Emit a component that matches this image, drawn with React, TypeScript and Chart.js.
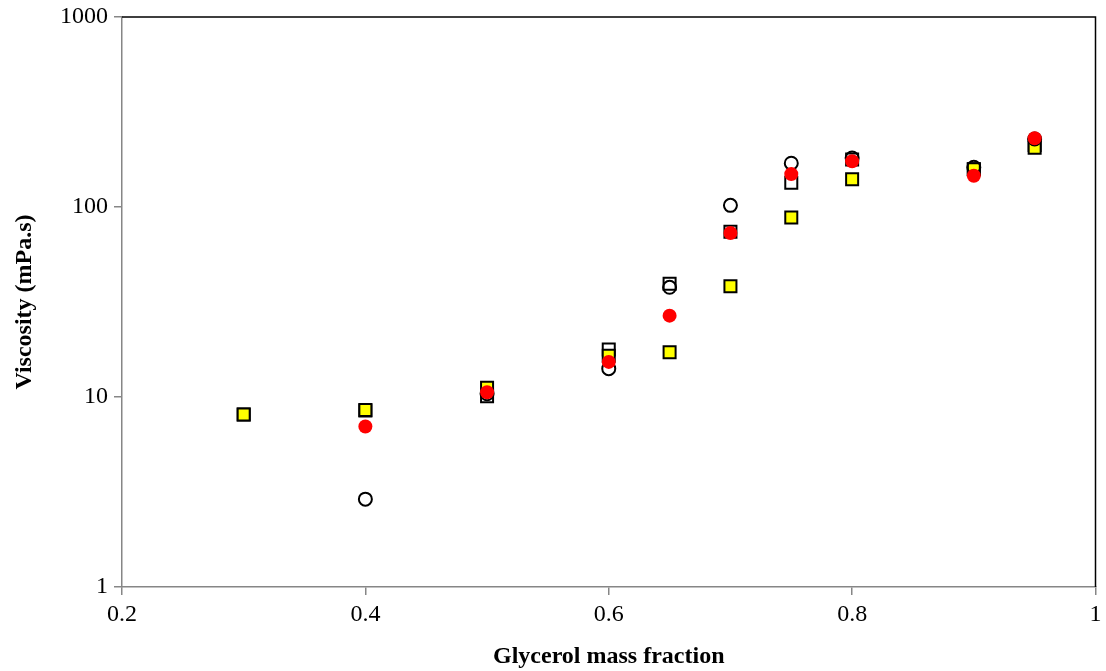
import React, { useEffect, useRef } from "react";
import { Chart, registerables } from "chart.js";

Chart.register(...registerables);

const xTicks = [0.2, 0.4, 0.6, 0.8, 1];
const yTicks = [1, 10, 100, 1000];

const sqX = [0.3, 0.4, 0.5, 0.6, 0.65, 0.7, 0.75, 0.8, 0.9, 0.95];
const openSquareY = [8.1, 8.5, 10.1, 17.8, 39.5, 74, 134, 178, 158, 212];
const yellowY = [8.1, 8.55, 11.2, 16.5, 17.2, 38.3, 88, 140, 158, 205];

const circX = [0.4, 0.5, 0.6, 0.65, 0.7, 0.75, 0.8, 0.9, 0.95];
const openCircleY = [2.9, 10.4, 14.1, 37.8, 102, 170, 181, 162, 228];
const redY = [7.0, 10.6, 15.3, 26.8, 73, 149, 174, 146, 230];

const pts = (xs: number[], ys: number[]) => xs.map((x, i) => ({ x, y: ys[i] }));

const FONT = "'Liberation Serif', 'Times New Roman', serif";

const framePlugin = {
  id: "frame",
  afterDraw(chart: any) {
    const { ctx, chartArea } = chart;
    ctx.save();
    ctx.strokeStyle = "#000";
    ctx.lineWidth = 1.5;
    ctx.beginPath();
    ctx.moveTo(chartArea.left, chartArea.top);
    ctx.lineTo(chartArea.right, chartArea.top);
    ctx.lineTo(chartArea.right, chartArea.bottom);
    ctx.stroke();
    ctx.restore();
  },
};

export default function App() {
  const ref = useRef<HTMLCanvasElement>(null);
  useEffect(() => {
    if (!ref.current) return;
    const chart = new Chart(ref.current, {
      type: "scatter",
      data: {
        datasets: [
          {
            label: "open squares",
            data: pts(sqX, openSquareY),
            order: 4,
            pointStyle: "rect",
            pointRadius: 8.5,
            pointBackgroundColor: "#ffffff",
            pointBorderColor: "#000000",
            pointBorderWidth: 2,
          },
          {
            label: "yellow squares",
            data: pts(sqX, yellowY),
            order: 3,
            pointStyle: "rect",
            pointRadius: 8.5,
            pointBackgroundColor: "#ffff00",
            pointBorderColor: "#000000",
            pointBorderWidth: 2,
          },
          {
            label: "open circles",
            data: pts(circX, openCircleY),
            order: 2,
            pointStyle: "circle",
            pointRadius: 6.5,
            pointBackgroundColor: "rgba(255,255,255,0)",
            pointBorderColor: "#000000",
            pointBorderWidth: 2,
          },
          {
            label: "red circles",
            data: pts(circX, redY),
            order: 1,
            pointStyle: "circle",
            pointRadius: 7,
            pointBackgroundColor: "#ff0000",
            pointBorderColor: "#ff0000",
            pointBorderWidth: 0,
          },
        ],
      },
      options: {
        animation: false,
        responsive: false,
        maintainAspectRatio: false,
        layout: { padding: { top: 17, right: 7, left: 0, bottom: 0 } },
        plugins: { legend: { display: false }, tooltip: { enabled: false } },
        scales: {
          x: {
            type: "linear",
            min: 0.2,
            max: 1,
            afterBuildTicks: (s: any) => {
              s.ticks = xTicks.map((v) => ({ value: v }));
            },
            afterFit: (s: any) => {
              s.height = 84;
              s.paddingLeft = 0;
              s.paddingRight = 0;
            },
            ticks: {
              color: "#000",
              font: { family: FONT, size: 24 },
              padding: 5,
              maxRotation: 0,
              callback: (v: any) => String(Number(Number(v).toFixed(1))),
            },
            grid: { drawOnChartArea: false, drawTicks: true, tickLength: 8, color: "#868686", lineWidth: 1.5 },
            border: { color: "#868686", width: 1.5 },
            title: {
              display: true,
              text: "Glycerol mass fraction",
              color: "#000",
              font: { family: FONT, size: 24, weight: "bold" },
              padding: { top: 6, bottom: 0 },
            },
          },
          y: {
            type: "logarithmic",
            min: 1,
            max: 1000,
            afterBuildTicks: (s: any) => {
              s.ticks = yTicks.map((v) => ({ value: v }));
            },
            afterFit: (s: any) => {
              s.width = 122;
              s.paddingTop = 0;
              s.paddingBottom = 0;
            },
            ticks: {
              color: "#000",
              font: { family: FONT, size: 24 },
              padding: 6,
              callback: (v: any) => String(v),
            },
            grid: { drawOnChartArea: false, drawTicks: true, tickLength: 8, color: "#868686", lineWidth: 1.5 },
            border: { color: "#868686", width: 1.5 },
            title: {
              display: true,
              text: "Viscosity (mPa.s)",
              color: "#000",
              font: { family: FONT, size: 24, weight: "bold" },
              padding: { top: 10, bottom: 4 },
            },
          },
        },
      },
      plugins: [framePlugin],
    });
    return () => chart.destroy();
  }, []);
  return (
    <div style={{ position: "absolute", left: 0, top: 0, width: 1106, height: 671, background: "#fff" }}>
      <canvas ref={ref} width={1106} height={671} style={{ display: "block" }} />
    </div>
  );
}
